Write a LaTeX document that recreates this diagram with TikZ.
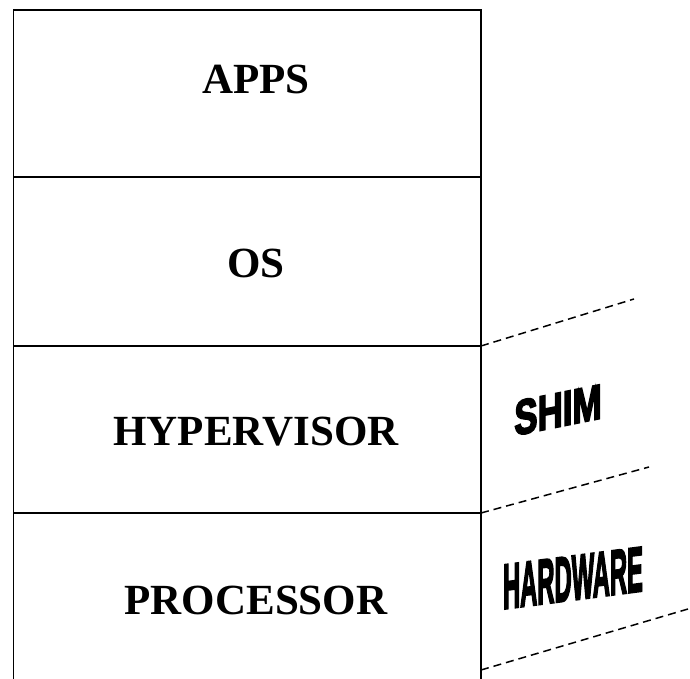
\documentclass[tikz,border=0pt]{standalone}
\usepackage{fontspec}
\setmainfont{Liberation Serif}
\newfontfamily\labelfont[BoldFeatures={FakeBold=4}]{Liberation Sans}
\usetikzlibrary{calc}

\begin{document}
\begin{tikzpicture}[x=1pt,y=1pt,
    frame/.style={line width=1.8pt},
    cut/.style={dash pattern=on 8pt off 5pt,line width=1.5pt},
    layertext/.style={font=\fontsize{43}{43}\selectfont\bfseries},
    arttext/.style={font=\labelfont\fontsize{36}{36}\selectfont\bfseries}]
  \useasboundingbox (0,0) rectangle (690,679);
  % corners and layer borders
  \coordinate (tl) at (13.5,669);
  \coordinate (tr) at (481,669);
  \coordinate (bl) at (13.5,0);
  \coordinate (br) at (481,0);
  \coordinate (osl) at (13.5,502);
  \coordinate (osr) at (481,502);
  \coordinate (hypl) at (13.5,333);
  \coordinate (hypr) at (481,333);
  \coordinate (procl) at (13.5,166);
  \coordinate (procr) at (481,166);
  \coordinate (low) at (481,9);

  \draw[frame] (bl) -- (tl) -- (tr) -- (br);
  \draw[frame] (osl) -- (osr);
  \draw[frame] (hypl) -- (hypr);
  \draw[frame] (procl) -- (procr);

  \node[layertext] (apps) at (256,599.5) {APPS};
  \node[layertext] (os) at (256,415.5) {OS};
  \node[layertext] (hyp) at (256,247.5) {HYPERVISOR};
  \node[layertext] (proc) at (256,79) {PROCESSOR};

  % dashed cuts on the right
  \coordinate (cut1) at (634,380);
  \coordinate (cut2) at (649,212);
  \coordinate (cut3) at (688,70);
  \draw[cut] (hypr) -- (cut1);
  \draw[cut] (procr) -- (cut2);
  \draw[cut] (low) -- (cut3);

  \node[arttext,yslant=0.2,xscale=0.97,yscale=1.36] (shim) at (558,269) {SHIM};
  \node[arttext,yslant=0.13,xscale=0.66,yscale=1.76] (hw) at (573,101) {HARDWARE};
\end{tikzpicture}
\end{document}
